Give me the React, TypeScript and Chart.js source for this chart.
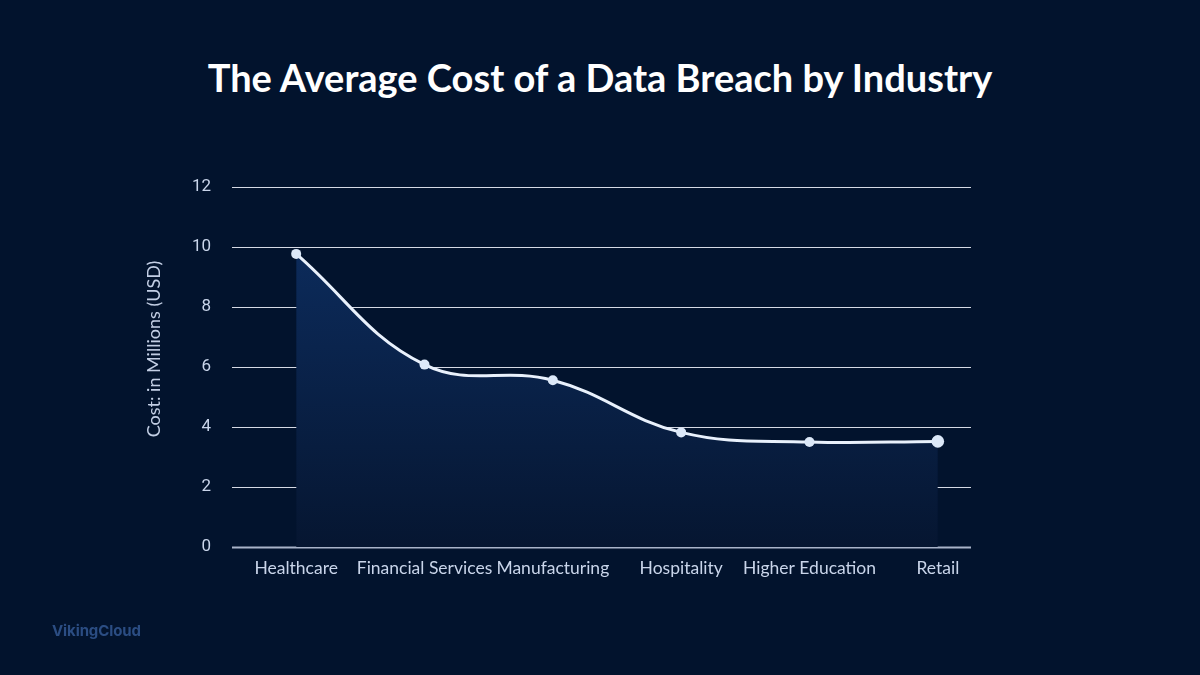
import React, { useEffect, useRef } from "react";
import { Chart, registerables } from "chart.js";

Chart.register(...registerables);

const categories = [
  "Healthcare",
  "Financial Services",
  "Manufacturing",
  "Hospitality",
  "Higher Education",
  "Retail",
];
const costMillions = [9.77, 6.08, 5.56, 3.82, 3.5, 3.52];
const pointSizes = [5, 5, 5, 5, 5, 6.3];
const yMax = 12;
const yStep = 2;
const yAxisTitle = "Cost: in Millions (USD)";

const BG = "#02132d";

// Horizontal value gridlines, stopped short of the right edge of the plot.
const valueGridPlugin = {
  id: "valueGrid",
  beforeDatasetsDraw(chart: any) {
    const { ctx, chartArea, scales } = chart;
    const y = scales.y;
    const right = chartArea.right - 31;
    ctx.save();
    y.ticks.forEach((t: any) => {
      const py = Math.round(y.getPixelForValue(t.value)) + 0.5;
      ctx.beginPath();
      if (t.value === 0) {
        ctx.strokeStyle = "#a9b4c9";
        ctx.lineWidth = 2;
      } else {
        ctx.strokeStyle = "rgba(236,240,248,0.9)";
        ctx.lineWidth = 1.2;
      }
      ctx.moveTo(chartArea.left, py);
      ctx.lineTo(right, py);
      ctx.stroke();
    });
    ctx.restore();
  },
};

// Rotated y-axis caption, sitting a little above the plot's vertical centre.
const yCaptionPlugin = {
  id: "yCaption",
  afterDraw(chart: any) {
    const { ctx, chartArea } = chart;
    ctx.save();
    ctx.translate(chartArea.left - 78, (chartArea.top + chartArea.bottom) / 2 - 18);
    ctx.rotate(-Math.PI / 2);
    ctx.font = "18px Lato";
    ctx.fillStyle = "#c2cee4";
    ctx.textAlign = "center";
    ctx.textBaseline = "middle";
    ctx.fillText(yAxisTitle, 0, 0);
    ctx.restore();
  },
};

export default function App() {
  const canvasRef = useRef<HTMLCanvasElement | null>(null);

  useEffect(() => {
    let chart: Chart | null = null;
    let cancelled = false;
    const build = () => {
      if (cancelled || !canvasRef.current) return;
      chart = new Chart(canvasRef.current, {
        type: "line",
        data: {
          labels: categories,
          datasets: [
            {
              data: costMillions,
              borderColor: "#e9f1fc",
              borderWidth: 3,
              tension: 0.4,
              fill: "origin",
              backgroundColor: (c: any) => {
                const area = c.chart.chartArea;
                if (!area) return "rgba(12,42,88,0.8)";
                const g = c.chart.ctx.createLinearGradient(0, area.top + 60, 0, area.bottom);
                g.addColorStop(0, "#0c2b5b");
                g.addColorStop(1, "#061631");
                return g;
              },
              pointRadius: pointSizes,
              pointHoverRadius: pointSizes,
              pointBackgroundColor: "#dce8f8",
              pointBorderColor: "#dce8f8",
              pointBorderWidth: 0,
            },
          ],
        },
        options: {
          responsive: false,
          animation: false,
          devicePixelRatio: 1,
          layout: {
            padding: { top: 187, left: 138, right: 198, bottom: 68 },
          },
          plugins: {
            legend: { display: false },
            tooltip: { enabled: false },
            title: { display: false },
          },
          scales: {
            x: {
              type: "category",
              offset: true,
              grid: { display: false, drawTicks: false },
              border: { display: false },
              ticks: {
                color: "#c9d5ea",
                padding: 11,
                maxRotation: 0,
                autoSkip: false,
                font: { family: "Lato", size: 17.5 },
              },
              afterFit(scale: any) {
                scale.height = 60;
              },
            },
            y: {
              min: 0,
              max: yMax,
              grid: { display: false, drawTicks: false },
              border: { display: false },
              ticks: {
                stepSize: yStep,
                color: "#c9d5ea",
                padding: 21,
                font: { family: "Roboto", size: 17 },
              },
              afterFit(scale: any) {
                scale.width = 94;
              },
            },
          },
        },
        plugins: [valueGridPlugin, yCaptionPlugin],
      });
    };
    const fontsReady = (document as any).fonts
      ? Promise.all([
          (document as any).fonts.load("16px Lato"),
          (document as any).fonts.load("bold 34px Lato"),
          (document as any).fonts.load("16px Roboto"),
        ]).catch(() => null)
      : Promise.resolve(null);
    fontsReady.then(build);
    return () => {
      cancelled = true;
      if (chart) chart.destroy();
    };
  }, []);

  return (
    <div
      style={{
        position: "fixed",
        left: 0,
        top: 0,
        width: 1200,
        height: 675,
        background: BG,
        overflow: "hidden",
      }}
    >
      <div
        style={{
          position: "absolute",
          left: 0,
          top: 52,
          width: 1200,
          textAlign: "center",
          fontFamily: "Lato, sans-serif",
          fontWeight: 700,
          fontSize: 38,
          lineHeight: "50px",
          color: "#ffffff",
        }}
      >
        The Average Cost of a Data Breach by Industry
      </div>
      <canvas
        ref={canvasRef}
        width={1200}
        height={675}
        style={{ position: "absolute", left: 0, top: 0, width: 1200, height: 675 }}
      />
      <div
        style={{
          position: "absolute",
          left: 52,
          top: 621,
          fontFamily: "Inter, Roboto, sans-serif",
          fontWeight: 700,
          fontSize: 15,
          lineHeight: "20px",
          color: "#2b4d83",
          letterSpacing: "-0.1px",
        }}
      >
        VikingCloud
      </div>
    </div>
  );
}
